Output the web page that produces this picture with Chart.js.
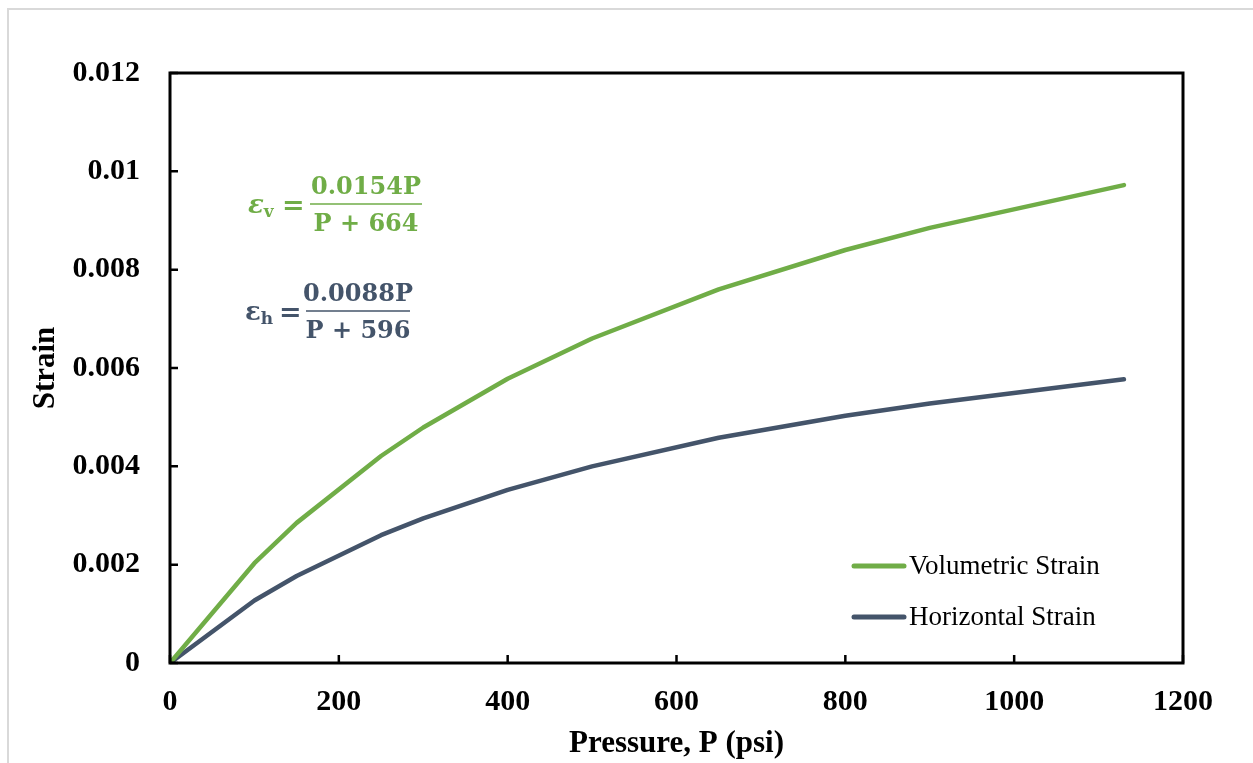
<!DOCTYPE html>
<html>
<head>
<meta charset="utf-8">
<title>Strain vs Pressure</title>
<script src="https://cdn.jsdelivr.net/npm/chart.js@4.4.1/dist/chart.umd.min.js"></script>
<style>
  html, body { margin: 0; padding: 0; background: #fff; }
  #wrap { position: relative; width: 1253px; height: 763px; overflow: hidden; }
  #frame { position: absolute; left: 7px; top: 8px; right: -10px; bottom: -10px;
           border-left: 2px solid #d9d9d9; border-top: 2px solid #d9d9d9; pointer-events: none; }
  canvas { position: absolute; left: 0; top: 0; }
</style>
</head>
<body>
<div id="wrap">
  <canvas id="strainChart" width="1253" height="763"></canvas>
  <div id="frame"></div>
</div>
<script>
// pressure steps (psi) and measured strains
var pressure = [0, 100, 150, 250, 300, 400, 500, 650, 800, 900, 1130];
var volumetric = [0, 0.00203, 0.00285, 0.00421, 0.00479, 0.00578, 0.00660, 0.00760, 0.00840, 0.00885, 0.00972];
var horizontal = [0, 0.00127, 0.00177, 0.00260, 0.00294, 0.00352, 0.00400, 0.00458, 0.00503, 0.00528, 0.00577];

var xTicks = [0, 200, 400, 600, 800, 1000, 1200];
var yTicks = [0, 0.002, 0.004, 0.006, 0.008, 0.01, 0.012];
var yTickLabels = ['0', '0.002', '0.004', '0.006', '0.008', '0.01', '0.012'];

var GREEN = '#70AD47';
var SLATE = '#44546A';
var serif = '"Liberation Serif", "Times New Roman", serif';
var mathSerif = '"DejaVu Serif", Cambria, serif';

function toPoints(xs, ys) {
    return xs.map(function(x, i) { return { x: x, y: ys[i] }; });
}

// frame, inner tick marks, fitted equations and legend
var decorations = {
    id: 'decorations',
    afterDatasetsDraw: function(chart) {
        var ctx = chart.ctx;
        var a = chart.chartArea;
        var xs = chart.scales.x, ys = chart.scales.y;
        ctx.save();

        ctx.strokeStyle = '#000';
        ctx.lineWidth = 3;
        ctx.strokeRect(a.left, a.top, a.right - a.left, a.bottom - a.top);

        ctx.lineWidth = 2.5;
        ctx.beginPath();
        yTicks.forEach(function(v) {
            var py = ys.getPixelForValue(v);
            ctx.moveTo(a.left, py);
            ctx.lineTo(a.left + 8, py);
        });
        xTicks.forEach(function(v) {
            var px = xs.getPixelForValue(v);
            ctx.moveTo(px, a.bottom);
            ctx.lineTo(px, a.bottom - 8);
        });
        ctx.stroke();

        // fitted curves
        function fraction(color, sym, sub, italic, symX, eqX, barL, barR, barY, num, den) {
            ctx.fillStyle = color;
            ctx.strokeStyle = color;
            ctx.textBaseline = 'alphabetic';
            ctx.textAlign = 'left';
            ctx.font = (italic ? 'italic ' : '') + 'bold 26px ' + mathSerif;
            ctx.fillText(sym, symX, barY + 9);
            var w = ctx.measureText(sym).width;
            ctx.font = 'bold 17px ' + mathSerif;
            ctx.fillText(sub, symX + w, barY + 13);
            ctx.font = 'bold 27px ' + mathSerif;
            ctx.fillText('=', eqX, barY + 10);
            ctx.lineWidth = 1.6;
            ctx.beginPath();
            ctx.moveTo(barL, barY);
            ctx.lineTo(barR, barY);
            ctx.stroke();
            ctx.textAlign = 'center';
            ctx.font = 'bold 24px ' + mathSerif;
            var cx = (barL + barR) / 2;
            ctx.fillText(num, cx, barY - 10);
            ctx.fillText(den, cx, barY + 27);
        }
        fraction(GREEN, '\u03B5', 'v', true, 248, 282, 310, 422, 204, '0.0154P', 'P + 664');
        fraction(SLATE, '\u03B5', 'h', false, 245, 279, 306, 410, 311, '0.0088P', 'P + 596');

        // legend
        var items = [
            { label: chart.data.datasets[0].label, color: GREEN, y: 566 },
            { label: chart.data.datasets[1].label, color: SLATE, y: 617 }
        ];
        ctx.lineCap = 'round';
        ctx.lineWidth = 5;
        ctx.textAlign = 'left';
        ctx.textBaseline = 'middle';
        ctx.font = '27px ' + serif;
        items.forEach(function(it) {
            ctx.strokeStyle = it.color;
            ctx.beginPath();
            ctx.moveTo(854, it.y);
            ctx.lineTo(904, it.y);
            ctx.stroke();
            ctx.fillStyle = '#000';
            ctx.fillText(it.label, 909, it.y + 1);
        });
        ctx.restore();
    }
};

var ctx = document.getElementById('strainChart').getContext('2d');
new Chart(ctx, {
    type: 'scatter',
    data: {
        datasets: [
            {
                label: 'Volumetric Strain',
                data: toPoints(pressure, volumetric),
                showLine: true,
                borderColor: GREEN,
                backgroundColor: GREEN,
                borderWidth: 4.5,
                pointRadius: 0,
                tension: 0,
                borderCapStyle: 'round',
                borderJoinStyle: 'round'
            },
            {
                label: 'Horizontal Strain',
                data: toPoints(pressure, horizontal),
                showLine: true,
                borderColor: SLATE,
                backgroundColor: SLATE,
                borderWidth: 4.5,
                pointRadius: 0,
                tension: 0,
                borderCapStyle: 'round',
                borderJoinStyle: 'round'
            }
        ]
    },
    options: {
        responsive: false,
        animation: false,
        layout: { padding: { left: 0, top: 73, right: 70, bottom: 0 } },
        plugins: {
            legend: { display: false },
            tooltip: { enabled: false }
        },
        scales: {
            x: {
                type: 'linear',
                min: 0,
                max: 1200,
                afterBuildTicks: function(scale) {
                    scale.ticks = xTicks.map(function(v) { return { value: v }; });
                },
                afterFit: function(scale) { scale.height = 100; },
                grid: { display: false, drawTicks: false },
                border: { display: false },
                ticks: {
                    padding: 21,
                    color: '#000',
                    font: { family: serif, size: 30, weight: 'bold' },
                    maxRotation: 0,
                    callback: function(v) { return String(v); }
                },
                title: {
                    display: true,
                    text: 'Pressure, P (psi)',
                    color: '#000',
                    font: { family: serif, size: 31, weight: 'bold' },
                    padding: { top: 0, bottom: 0 }
                }
            },
            y: {
                min: 0,
                max: 0.012,
                afterBuildTicks: function(scale) {
                    scale.ticks = yTicks.map(function(v) { return { value: v }; });
                },
                afterFit: function(scale) { scale.width = 170; },
                grid: { display: false, drawTicks: false },
                border: { display: false },
                ticks: {
                    padding: 30,
                    color: '#000',
                    font: { family: serif, size: 30, weight: 'bold' },
                    callback: function(v) {
                        var i = yTicks.indexOf(v);
                        return i >= 0 ? yTickLabels[i] : '';
                    }
                },
                title: {
                    display: true,
                    text: 'Strain',
                    color: '#000',
                    font: { family: serif, size: 31, weight: 'bold' },
                    padding: { top: 27, bottom: 0 }
                }
            }
        }
    },
    plugins: [decorations]
});
</script>
</body>
</html>
